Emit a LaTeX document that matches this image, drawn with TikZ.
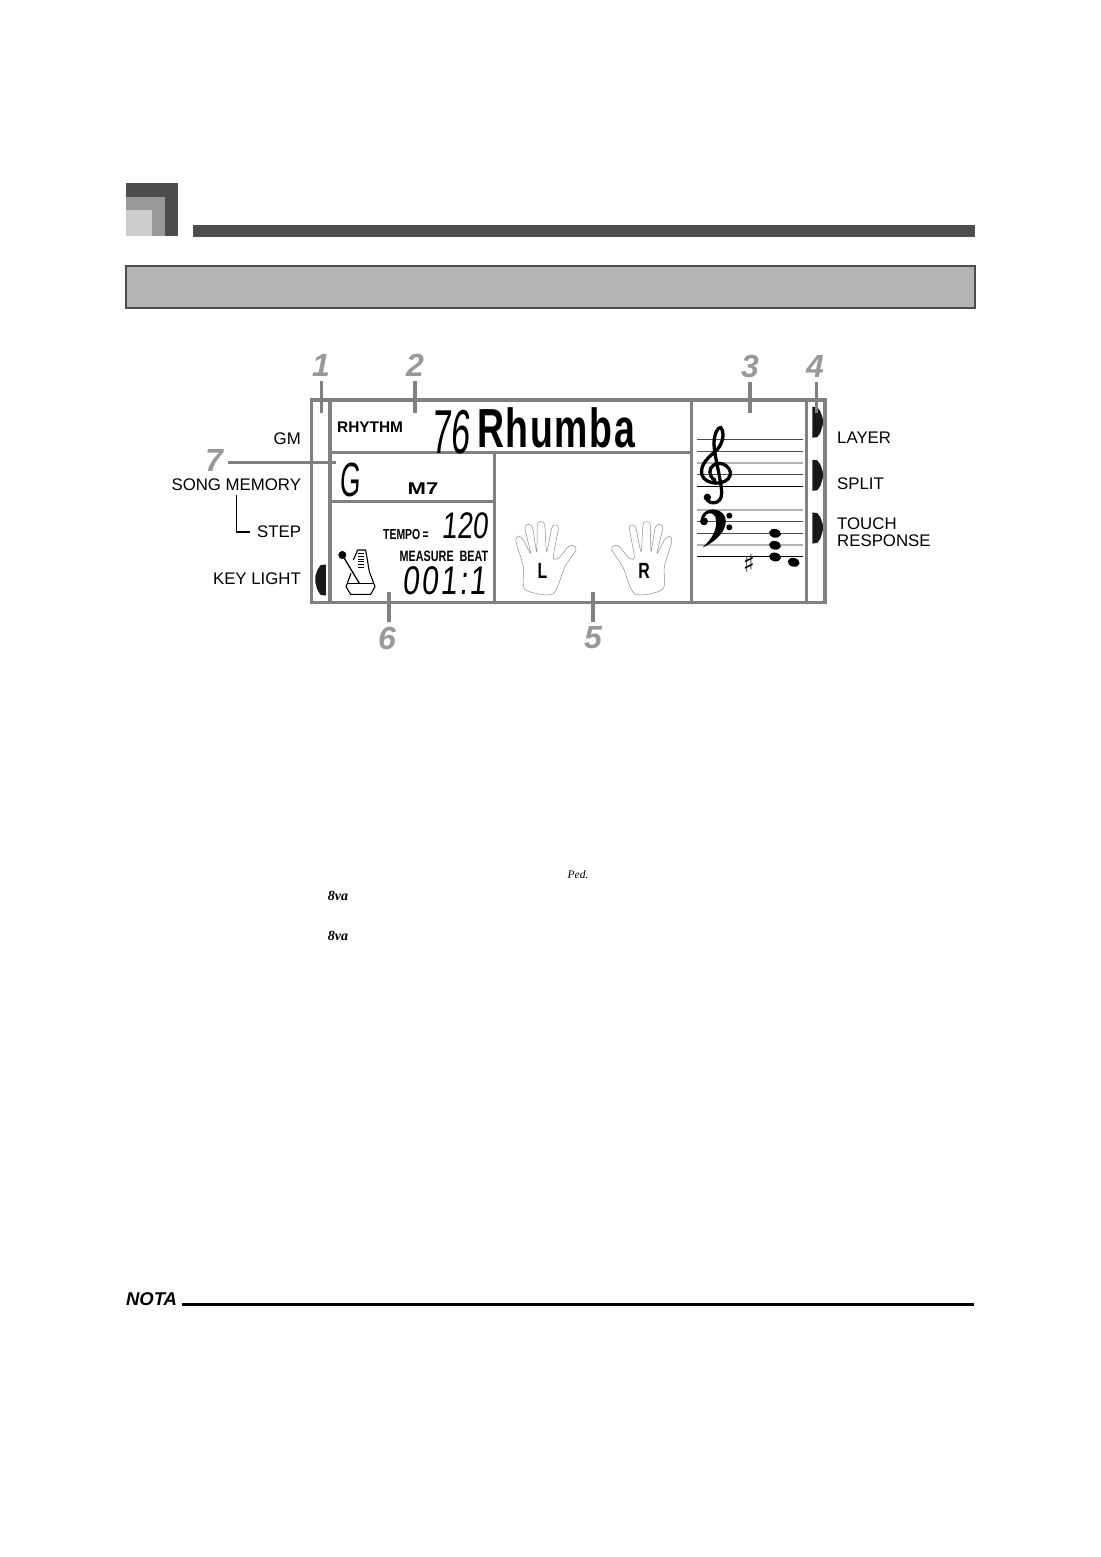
\documentclass[tikz,border=0pt]{standalone}
\usepackage{fontspec}
\setmainfont{Liberation Sans}
\newfontfamily\lcdfont[FakeStretch=0.55,FakeSlant=0.07]{Liberation Sans}
\newfontfamily\lcdwidefont[FakeStretch=0.75,FakeSlant=0.1]{Liberation Sans}
\newfontfamily\namefont[FakeStretch=0.68,LetterSpace=3]{Liberation Sans}
\newfontfamily\smallfont[FakeStretch=0.72]{Liberation Sans}
\newfontfamily\widefont[FakeStretch=1.3]{Liberation Sans}
\newfontfamily\notefont{Liberation Serif}
\newfontfamily\symbolfont{DejaVu Sans}
\definecolor{darkpanel}{HTML}{4D4D4D}
\definecolor{midpanel}{HTML}{999999}
\definecolor{lightpanel}{HTML}{CCCCCC}
\definecolor{bandgray}{HTML}{B3B3B3}
\definecolor{framegray}{HTML}{808080}
\tikzset{
  framed/.style={draw=framegray,line width=3.4pt},
  leader/.style={draw=framegray,line width=3.4pt},
  numlabel/.style={inner sep=0pt,outer sep=5pt,text=midpanel,font=\fontsize{32}{32}\selectfont\bfseries\itshape},
  sidelabel/.style={inner sep=0pt,font=\fontsize{16.8}{16.5}\selectfont,align=left},
  lcdtext/.style={inner sep=0pt},
  staffthin/.style={draw=black!70,line width=.8pt},
  stafflight/.style={draw=bandgray,line width=1.6pt},
  staffblack/.style={draw=black,line width=1pt},
  marker/.pic={\fill[black!90] (0,0) -- (5,.5) .. controls (8,4) .. (10.5,12) -- (10.5,18) .. controls (8,27) .. (5,30.5) -- (0,31) -- cycle;},
  handshape/.pic={\draw[black!45,line width=.5pt] plot[smooth cycle,tension=.45] coordinates {
    (105,748) (100,680) (78,605) (85,588) (100,600) (122,640) (105,565) (115,553) (128,565) (140,635)
    (142,555) (152,545) (164,555) (170,635) (185,565) (195,555) (205,565) (190,650) (205,655)
    (235,620) (250,617) (258,630) (225,680) (188,762)};}
}
\begin{document}
\begin{tikzpicture}[x=1pt,y=-1pt]
  \useasboundingbox (0,0) rectangle (1100,1557);

  % page header
  \fill[darkpanel] (126,183) rectangle (178,236);
  \fill[midpanel] (126,197) rectangle (165,236);
  \fill[lightpanel] (126,210) rectangle (152,236);
  \fill[darkpanel] (193,225) rectangle (975,237);
  \draw[draw=darkpanel,fill=bandgray,line width=2pt] (126,266) rectangle (975,308);

  % display frame
  \draw[framed] (311.7,400) rectangle (825,602.7);
  \draw[framed] (330,400) -- (330,602.7);
  \draw[framed] (494.3,452.7) -- (494.3,602.7);
  \draw[framed] (691.7,400) -- (691.7,602.7);
  \draw[framed] (806.7,400) -- (806.7,602.7);
  \draw[framed] (330,452.7) -- (691.7,452.7);
  \draw[framed] (330,501.7) -- (494.3,501.7);

  % indicators
  \pic at (812.3,406.7) {marker};
  \pic at (812.3,459.8) {marker};
  \pic at (812.3,512.5) {marker};
  \pic[xscale=-1] at (325.8,564.5) {marker};

  % display texts
  \node[inner sep=0pt,anchor=west,font=\fontsize{15.4}{15}\selectfont\bfseries] (rhythm) at (337,427) {RHYTHM};
  \node[lcdtext,anchor=center,font=\fontsize{62}{62}\lcdfont] (tonenum) at (450,432.5) {76};
  \node[lcdtext,anchor=west,font=\fontsize{55}{55}\namefont\bfseries] (tonename) at (477,427.5) {Rhumba};
  \node[lcdtext,font=\fontsize{48}{48}\lcdfont] (chordroot) at (350,480) {G};
  \node[inner sep=0pt,font=\fontsize{17}{17}\widefont\bfseries] (chordtype) at (423,489) {M7};
  \node[lcdtext,font=\fontsize{14.5}{15}\smallfont\bfseries] (tempolabel) at (406,535) {TEMPO\,=};
  \node[lcdtext,font=\fontsize{37}{37}\lcdwidefont] (temponum) at (464.5,526) {120};
  \node[lcdtext,font=\fontsize{15}{15}\smallfont\bfseries] (measurelabel) at (444,556) {MEASURE\ \ BEAT};
  \node[lcdtext,font=\fontsize{40}{40}\lcdwidefont] (counter) at (444.5,581) {0\hspace{2pt}0\hspace{2pt}1\hspace{2pt}:\hspace{2pt}1};

  % metronome
  \begin{scope}[shift={(330,505)},scale=1/3]
    \draw[black,line width=1.1pt,line join=round] (70,165) -- (83,135) -- (107,135) -- (118,200) -- (135,245) -- (122,268)
      -- (62,268) -- (48,245) -- (63,205);
    \draw[black,line width=1.1pt] (52,235) -- (131,235);
    \draw[black,line width=1.3pt] (37,150) -- (88,235);
    \fill[black] (37,150) circle (12);
    \foreach \tick in {146,154,162,170,178,186} {
      \draw[black,line width=.8pt] (85,\tick) -- (102,\tick);
    }
  \end{scope}

  % hands
  \pic[scale=1/3] at (490,340) {handshape};
  \pic[xscale=-1/3,yscale=1/3] at (697.7,340) {handshape};
  \node[inner sep=0pt,font=\fontsize{22}{22}\smallfont\bfseries] (handl) at (542.5,571) {L};
  \node[inner sep=0pt,font=\fontsize{22}{22}\smallfont\bfseries] (handr) at (644,571) {R};

  % staves
  \foreach \y in {439.3,451.3,474.3} { \draw[staffthin] (697,\y) -- (802.7,\y); }
  \foreach \y in {521.3,533} { \draw[staffthin] (697,\y) -- (802.7,\y); }
  \foreach \y in {462.7,510,545} { \draw[stafflight] (697,\y) -- (802.7,\y); }
  \foreach \y in {486,556.3} { \draw[staffblack] (697,\y) -- (802.7,\y); }
  \begin{scope}[shift={(690,405)},scale=1/3]
    % treble clef
    \draw[black,line width=3.3pt,line cap=round] (50,280) .. controls (55,300) and (95,300) .. (95,265)
      .. controls (95,230) and (72,150) .. (72,115) .. controls (72,85) and (85,65) .. (92,68)
      .. controls (105,80) and (100,120) .. (75,140) .. controls (45,165) and (30,185) .. (36,210)
      .. controls (45,240) and (110,245) .. (121,210) .. controls (125,180) and (80,160) .. (62,190)
      .. controls (55,205) and (65,222) .. (75,225);
    \fill[black] (52,277) circle (11);
    % bass clef
    \fill[black] (32,345) .. controls (35,310) and (78,305) .. (98,325) .. controls (122,350) and (100,400) .. (37,428)
      .. controls (68,400) and (85,370) .. (76,335) .. controls (68,318) and (45,325) .. (45,335) -- cycle;
    \fill[black] (42,349) circle (12);
    \fill[black] (118,332) circle (9);
    \fill[black] (118,367) circle (9);
    % notes
    \foreach \nx/\ny in {255/385,255/421,255/456,311/472} {
      \fill[black,rotate around={-12:(\nx,\ny)}] (\nx,\ny) ellipse [x radius=18,y radius=13];
    }
    \node[inner sep=0pt,font=\fontsize{25}{25}\symbolfont] (sharp) at (177,474) {♯};
  \end{scope}

  % side labels
  \node[sidelabel,anchor=east] (gm) at (301,439) {GM};
  \node[sidelabel,anchor=east,outer sep=4pt] (songmem) at (305,485) {SONG MEMORY};
  \node[sidelabel,anchor=east,outer sep=7pt] (steplabel) at (308,532) {STEP};
  \node[sidelabel,anchor=east] (keylight) at (301,579) {KEY LIGHT};
  \node[sidelabel,anchor=west] (layer) at (837,438) {LAYER};
  \node[sidelabel,anchor=west] (split) at (837,484) {SPLIT};
  \node[sidelabel,anchor=west] (touch) at (837,532) {TOUCH\\RESPONSE};
  \draw[black,line width=1.1pt] (songmem.south) |- (steplabel.west);

  % numbers and their leaders
  \node[numlabel] (numone) at (321,365) {1};
  \node[numlabel] (numtwo) at (415,365) {2};
  \node[numlabel] (numthree) at (750,366) {3};
  \node[numlabel] (numfour) at (815,366) {4};
  \node[numlabel] (numfive) at (593,638) {5};
  \node[numlabel] (numsix) at (387,638) {6};
  \node[numlabel] (numseven) at (214,460) {7};
  \coordinate (tipone) at (321.5,412.7);
  \coordinate (tiptwo) at (415,412.7);
  \coordinate (tipthree) at (750,412.7);
  \coordinate (tipfour) at (816.7,412.7);
  \coordinate (tipfive) at (593,592);
  \coordinate (tipsix) at (389,592);
  \coordinate (tipseven) at (335.7,462.3);
  \draw[leader] (numone.south -| tipone) -- (tipone);
  \draw[leader] (numtwo.south -| tiptwo) -- (tiptwo);
  \draw[leader] (numthree.south -| tipthree) -- (tipthree);
  \draw[leader] (numfour.south -| tipfour) -- (tipfour);
  \draw[leader] (numfive.north -| tipfive) -- (tipfive);
  \draw[leader] (numsix.north -| tipsix) -- (tipsix);
  \draw[leader] (numseven.east |- tipseven) -- (tipseven);

  % small marks in the text area
  \node[inner sep=0pt,font=\fontsize{11.5}{11}\notefont\itshape] (pedmark) at (578,875) {Ped.};
  \node[inner sep=0pt,font=\fontsize{14}{14}\notefont\bfseries\itshape] (octaveone) at (338,896) {8va};
  \node[inner sep=0pt,font=\fontsize{14}{14}\notefont\bfseries\itshape] (octavetwo) at (338,936) {8va};

  % note rule
  \node[inner sep=0pt,anchor=west,outer sep=5pt,font=\fontsize{18.5}{19}\selectfont\bfseries\itshape] (notalabel) at (121,1299) {NOTA};
  \coordinate (notaend) at (974,1304.5);
  \draw[black,line width=2.2pt] (notalabel.east |- notaend) -- (notaend);
\end{tikzpicture}
\end{document}
